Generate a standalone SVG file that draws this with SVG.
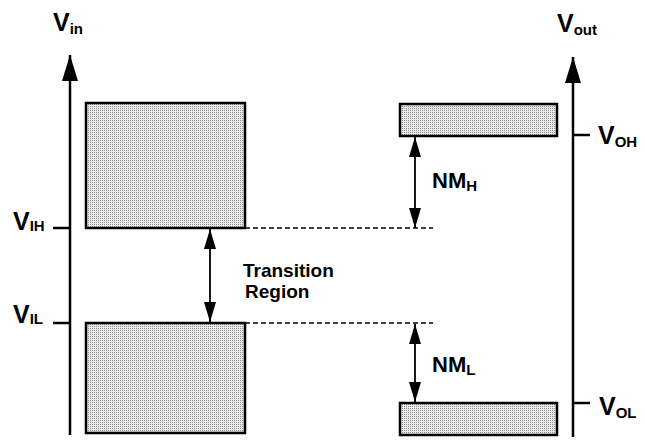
<svg xmlns="http://www.w3.org/2000/svg" width="645" height="443" viewBox="0 0 645 443">
<defs>
<pattern id="dots" width="2" height="2" patternUnits="userSpaceOnUse">
<rect width="2" height="2" fill="#ececec"/>
<rect width="1" height="1" fill="#8a8a8a"/>
</pattern>
<marker id="ah" viewBox="0 0 20 12" refX="20" refY="6" markerWidth="20" markerHeight="12" markerUnits="userSpaceOnUse" orient="auto-start-reverse">
<path d="M0,0 L20,6 L0,12 Z" fill="#000"/>
</marker>
<marker id="ax" viewBox="0 0 26 16" refX="26" refY="8" markerWidth="26" markerHeight="16" markerUnits="userSpaceOnUse" orient="auto">
<path d="M0,0 L26,8 L0,16 Z" fill="#000"/>
</marker>
</defs>
<style>
.box{fill:url(#dots);stroke:#000;stroke-width:2.5}
.axis{stroke:#000;stroke-width:2.5;fill:none}
.tick{stroke:#000;stroke-width:2.5}
.dash{stroke:#000;stroke-width:1.3;stroke-dasharray:5 3;fill:none}
.dbl{stroke:#000;stroke-width:1.8;fill:none}
text{font-family:"Liberation Sans",Arial,sans-serif;fill:#000;font-weight:bold}
.lbl{font-size:25px}
.sub{font-size:15px}
.nm{font-size:22px}
.mid{font-size:19px}
</style>
<g id="connectors">
<line class="axis" x1="70" y1="435" x2="70" y2="55" marker-end="url(#ax)"/>
<line class="axis" x1="573" y1="437" x2="573" y2="57" marker-end="url(#ax)"/>
<line class="tick" x1="53" y1="228" x2="70" y2="228"/>
<line class="tick" x1="53" y1="323" x2="70" y2="323"/>
<line class="tick" x1="573" y1="135" x2="590" y2="135"/>
<line class="tick" x1="573" y1="403" x2="590" y2="403"/>
<line class="dash" x1="245" y1="228" x2="433" y2="228"/>
<line class="dash" x1="245" y1="323" x2="433" y2="323"/>
<line class="dbl" x1="210" y1="229" x2="210" y2="322" marker-start="url(#ah)" marker-end="url(#ah)"/>
<line class="dbl" x1="415" y1="137" x2="415" y2="228" marker-start="url(#ah)" marker-end="url(#ah)"/>
<line class="dbl" x1="415" y1="324" x2="415" y2="402" marker-start="url(#ah)" marker-end="url(#ah)"/>
</g>
<g id="box-in-high"><rect class="box" x="86" y="103" width="159" height="125"/></g>
<g id="box-in-low"><rect class="box" x="86" y="323" width="159" height="110"/></g>
<g id="box-out-high"><rect class="box" x="400" y="104" width="157" height="32"/></g>
<g id="box-out-low"><rect class="box" x="400" y="403" width="157" height="32"/></g>
<g id="label-vin"><text class="lbl" x="53" y="31">V<tspan class="sub" dy="3">in</tspan></text></g>
<g id="label-vout"><text class="lbl" x="557" y="32">V<tspan class="sub" dy="3">out</tspan></text></g>
<g id="label-vih"><text class="lbl" x="13" y="230">V<tspan class="sub" dy="1" font-size="14">IH</tspan></text></g>
<g id="label-vil"><text class="lbl" x="13" y="323">V<tspan class="sub" dy="1" font-size="14">IL</tspan></text></g>
<g id="label-voh"><text class="lbl" x="598" y="144">V<tspan class="sub" dy="3">OH</tspan></text></g>
<g id="label-vol"><text class="lbl" x="599" y="415">V<tspan class="sub" dy="3">OL</tspan></text></g>
<g id="label-nmh"><text class="nm" x="432" y="188">NM<tspan class="sub" dy="3">H</tspan></text></g>
<g id="label-nml"><text class="nm" x="432" y="372">NM<tspan class="sub" dy="3">L</tspan></text></g>
<g id="label-transition"><text class="mid" x="243" y="277">Transition</text><text class="mid" x="245" y="298">Region</text></g>
</svg>
